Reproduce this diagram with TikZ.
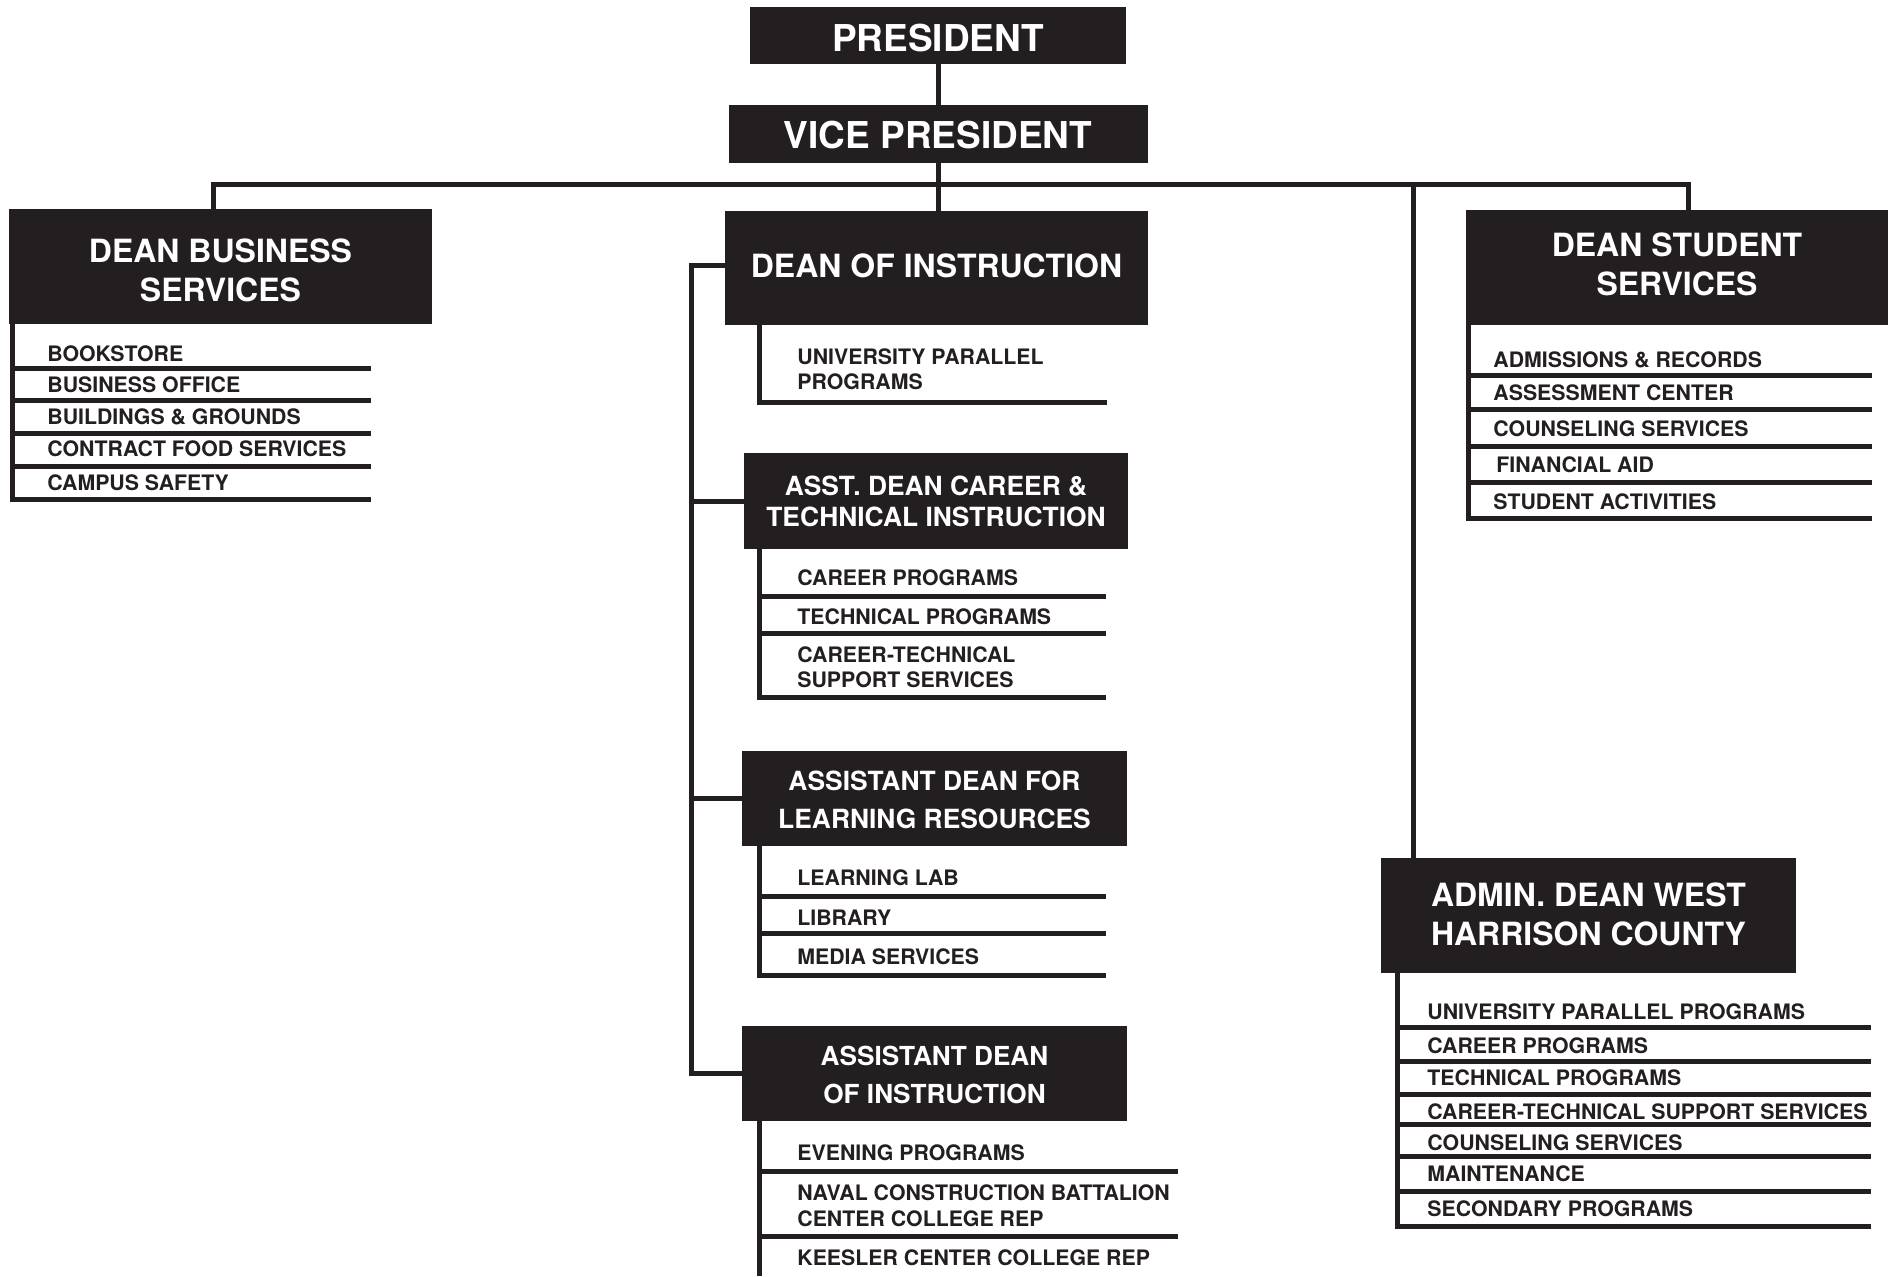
\documentclass[tikz,border=0pt]{standalone}
\usepackage{fontspec}
\setmainfont{TeX Gyre Heros}
\definecolor{ink}{HTML}{231F20}
\newcommand\lowr[2]{\raisebox{-#1}[\height][\depth]{#2}}
\begin{document}
\begin{tikzpicture}[x=0.5pt,y=-0.5pt,
  ln/.style={draw=ink,line width=2.5pt,line join=miter,line cap=butt},
  bx/.style={fill=ink,text=white,inner sep=0pt,align=center},
  bigbox/.style={bx,font=\bfseries\fontsize{16}{19.5}\selectfont},
  item/.style={anchor=west,inner sep=0pt,text=ink,align=left,font=\bfseries\fontsize{10.65}{12.7}\selectfont}]
\useasboundingbox (0,0) rectangle (1895,1276);

% top boxes
\node[bx,font=\bfseries\fontsize{18.5}{22}\selectfont,minimum width=188pt,minimum height=28.5pt] (pres) at (938,35.5) {\lowr{1.2pt}{PRESIDENT}};
\node[bx,font=\bfseries\fontsize{18.5}{22}\selectfont,minimum width=209.5pt,minimum height=29pt] (vp) at (938,134) {\lowr{0.6pt}{VICE PRESIDENT}};

% deans
\node[bigbox,minimum width=211.5pt,minimum height=57.5pt] (dbs) at (220.5,266.5) {\lowr{1.8pt}{DEAN BUSINESS}\\\lowr{1.8pt}{SERVICES}};
\node[bigbox,text depth=2.4pt,minimum width=211.5pt,minimum height=57pt] (doi) at (936.5,268) {DEAN OF INSTRUCTION};
\node[bigbox,text depth=3pt,minimum width=211pt,minimum height=57.5pt] (dss) at (1677,267.5) {DEAN STUDENT\\SERVICES};
\node[bigbox,text depth=1.8pt,minimum width=207.5pt,minimum height=57.5pt] (adm) at (1588.5,915.5) {ADMIN. DEAN WEST\\HARRISON COUNTY};

% assistant deans
\node[bx,font=\bfseries\fontsize{13.2}{15.5}\selectfont,minimum width=192pt,minimum height=48pt] (car) at (936,501) {ASST. DEAN CAREER \&\\TECHNICAL INSTRUCTION};
\node[bx,font=\bfseries\fontsize{13.2}{19}\selectfont,minimum width=192.5pt,minimum height=47.5pt] (lr) at (934.5,798.5) {\lowr{0.9pt}{ASSISTANT DEAN FOR}\\\lowr{0.9pt}{LEARNING RESOURCES}};
\node[bx,font=\bfseries\fontsize{13.1}{19}\selectfont,minimum width=192.5pt,minimum height=47.5pt] (adi) at (934.5,1073.5) {\lowr{0.6pt}{ASSISTANT DEAN}\\\lowr{0.6pt}{OF INSTRUCTION}};

% connectors
\coordinate (bl) at (213,184);
\coordinate (br) at (1688,184);
\coordinate (ba) at (1413,184);
\coordinate (sp) at (691,265);
\draw[ln] (pres.south) -- (pres.south |- vp.north);
\draw[ln] (vp.south) -- (vp.south |- doi.north);
\draw[ln] (dbs.north -| bl) -- (bl) -- (br) -- (dss.north -| br);
\draw[ln] (ba) -- (ba |- adm.north);
\draw[ln] (doi.west |- sp) -- (sp) -- (sp |- adi.west) -- (adi.west);
\draw[ln] (sp |- car.west) -- (car.west);
\draw[ln] (sp |- lr.west) -- (lr.west);

% business services list
\draw[ln] (12,324) -- (12,499) -- (371,499);
\foreach \y in {368,400,433,466} \draw[ln] (12,\y) -- (371,\y);
\node[item] (b1) at (47,354) {BOOKSTORE};
\node[item] (b2) at (47,385) {BUSINESS OFFICE};
\node[item] (b3) at (47,417) {BUILDINGS \& GROUNDS};
\node[item] (b4) at (47,449) {CONTRACT FOOD SERVICES};
\node[item] (b5) at (47,483) {CAMPUS SAFETY};

% dean of instruction list
\draw[ln] (759,325) -- (759,402) -- (1107,402);
\node[item] (i1) at (797,369.5) {UNIVERSITY PARALLEL\\PROGRAMS};

% career list
\draw[ln] (759,549) -- (759,697) -- (1106,697);
\foreach \y in {596,633} \draw[ln] (759,\y) -- (1106,\y);
\node[item] (c1) at (797,578) {CAREER PROGRAMS};
\node[item] (c2) at (797,617) {TECHNICAL PROGRAMS};
\node[item] (c3) at (797,667.5) {CAREER-TECHNICAL\\SUPPORT SERVICES};

% learning resources list
\draw[ln] (759,846) -- (759,975) -- (1106,975);
\foreach \y in {896,933} \draw[ln] (759,\y) -- (1106,\y);
\node[item] (l1) at (797,878) {LEARNING LAB};
\node[item] (l2) at (797,918) {LIBRARY};
\node[item] (l3) at (797,957) {MEDIA SERVICES};

% assistant dean of instruction list
\draw[ln] (759,1121) -- (759,1276);
\foreach \y in {1171,1236} \draw[ln] (759,\y) -- (1178,\y);
\node[item] (a1) at (797,1153) {EVENING PROGRAMS};
\node[item,font=\bfseries\fontsize{10.65}{13}\selectfont] (a2) at (797,1205.5) {NAVAL CONSTRUCTION BATTALION\\CENTER COLLEGE REP};
\node[item] (a3) at (797,1258) {KEESLER CENTER COLLEGE REP};

% student services list
\draw[ln] (1468,325) -- (1468,518) -- (1872,518);
\foreach \y in {375,409,446,482} \draw[ln] (1468,\y) -- (1872,\y);
\node[item] (s1) at (1493,360) {ADMISSIONS \& RECORDS};
\node[item] (s2) at (1493,393) {ASSESSMENT CENTER};
\node[item] (s3) at (1493,429) {COUNSELING SERVICES};
\node[item] (s4) at (1496,465) {FINANCIAL AID};
\node[item] (s5) at (1493,502) {STUDENT ACTIVITIES};

% west harrison list
\draw[ln] (1397,973) -- (1397,1226) -- (1871,1226);
\foreach \y in {1027,1061,1094,1124,1156,1191} \draw[ln] (1397,\y) -- (1871,\y);
\node[item] (w1) at (1427,1012) {UNIVERSITY PARALLEL PROGRAMS};
\node[item] (w2) at (1427,1046) {CAREER PROGRAMS};
\node[item] (w3) at (1427,1078) {TECHNICAL PROGRAMS};
\node[item] (w4) at (1427,1112) {CAREER-TECHNICAL SUPPORT SERVICES};
\node[item] (w5) at (1427,1143) {COUNSELING SERVICES};
\node[item] (w6) at (1427,1174) {MAINTENANCE};
\node[item] (w7) at (1427,1209) {SECONDARY PROGRAMS};
\end{tikzpicture}
\end{document}
